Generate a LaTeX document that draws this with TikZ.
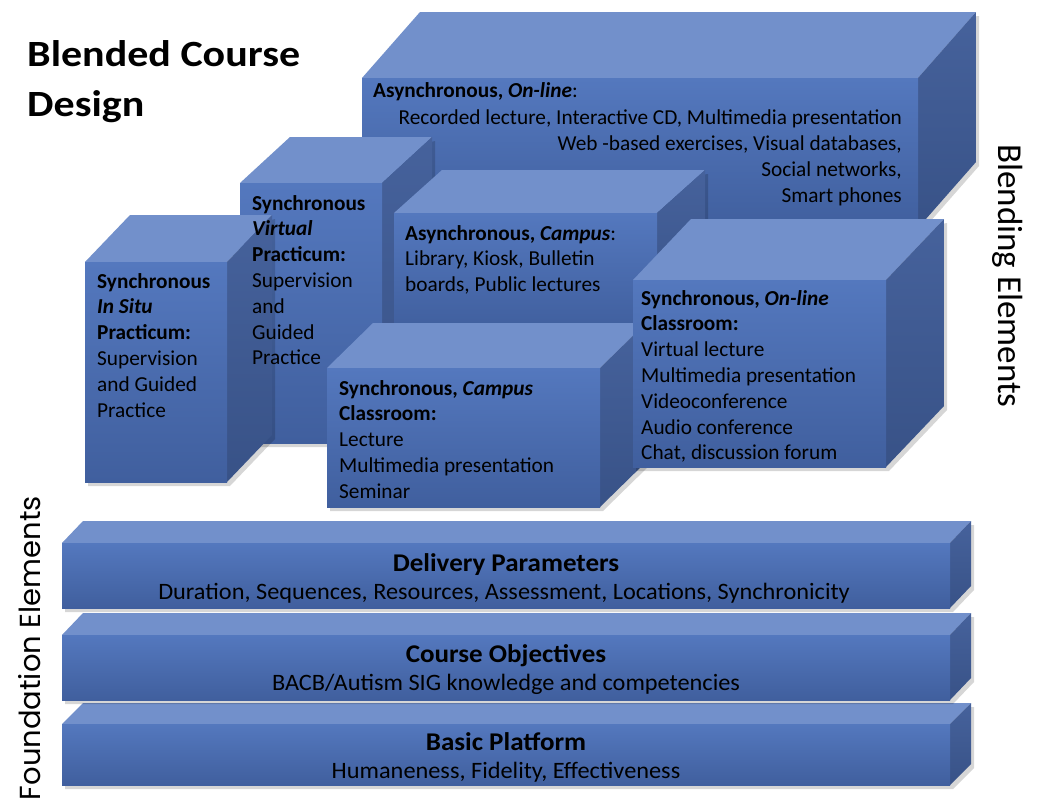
\documentclass[tikz,border=0pt]{standalone}
\usepackage{fontspec}
\setmainfont{Carlito}
\newfontfamily\gothic{Poppins}
\usetikzlibrary{calc}
\definecolor{fronttop}{RGB}{84,120,190}
\definecolor{frontbot}{RGB}{64,95,158}
\definecolor{topface}{RGB}{114,144,203}
\definecolor{sidetop}{RGB}{70,98,156}
\definecolor{sidebot}{RGB}{56,82,135}
\tikzset{
  frontface/.style={top color=fronttop, bottom color=frontbot, draw=none},
  topfill/.style={fill=topface, draw=none},
  sidefill/.style={top color=sidetop, bottom color=sidebot, draw=none},
  shadowfill/.style={fill=black, opacity=0.16, draw=none},
  boxtext/.style={font=\fontsize{21.3}{25.8}\selectfont, align=left, inner sep=0pt, text=black},
  slabhead/.style={font=\fontsize{25.5}{28}\selectfont\bfseries, inner sep=0pt, anchor=base, xscale=1.06},
  slabtext/.style={font=\fontsize{23.5}{25}\selectfont, inner sep=0pt, anchor=base, xscale=1.035},
  titletext/.style={font=\fontsize{37}{50}\selectfont\bfseries, inner sep=0pt, anchor=base west, xscale=1.135},
  sidelabel/.style={font=\fontsize{35}{38}\selectfont, inner sep=0pt}
}
% name, x1, y1, x2, y2, dx, dy (pixel coordinates, y downwards)
\newcommand{\cubox}[7]{%
  \fill[shadowfill] (#2+3,#3+4) -- (#2+3,#5+4) -- (#4+3,#5+4) -- (#4+#6+3,#5+#7+4) -- (#4+#6+3,#3+#7+4) -- cycle;
  \fill[topfill] (#2,#3) -- (#2+#6,#3+#7) -- (#4+#6,#3+#7) -- (#4,#3) -- cycle;
  \shade[sidefill] (#4,#3) -- (#4+#6,#3+#7) -- (#4+#6,#5+#7) -- (#4,#5) -- cycle;
  \shade[frontface] (#2,#3) rectangle (#4,#5);
  \coordinate (#1) at (#2,#3);
}
\begin{document}
\begin{tikzpicture}[x=1pt,y=-1pt]
\useasboundingbox (0,0) rectangle (1037,806);
\fill[white] (0,0) rectangle (1037,806);

% title
\node[titletext] (title1) at (27,66) {Blended Course};
\node[titletext] (title2) at (27,116) {Design};

% blending elements
\cubox{ao}{362}{78}{918}{228}{58}{-66}
\cubox{svp}{240}{183}{382}{443}{50}{-46}
\cubox{ac}{394}{213}{657}{330}{48}{-43}
\cubox{sisp}{85}{262}{227}{482}{45}{-47}
\cubox{scc}{327}{368}{600}{507}{46}{-45}
\cubox{soc}{633}{280}{886}{467}{58}{-61}

\node[boxtext, anchor=west] (aoh) at (373,92) {\textbf{Asynchronous, \textit{On-line}}:};
\node[boxtext, anchor=north east, align=right] (aob) at (902,110) {Recorded lecture, Interactive CD, Multimedia presentation\\Web -based exercises, Visual databases,\\Social networks,\\Smart phones};

\node[boxtext, anchor=north west] (svpt) at (252,195) {\textbf{Synchronous}\\\textbf{\textit{Virtual}}\\\textbf{Practicum:}\\Supervision\\and\\Guided\\Practice};
\node[boxtext, anchor=north west] (sispt) at (97,273) {\textbf{Synchronous}\\\textbf{\textit{In Situ}}\\\textbf{Practicum:}\\Supervision\\and Guided\\Practice};
\node[boxtext, anchor=north west] (act) at (405,225) {\textbf{Asynchronous, \textit{Campus}}:\\Library, Kiosk, Bulletin\\boards, Public lectures};
\node[boxtext, anchor=north west] (soct) at (641,290) {\textbf{Synchronous, \textit{On-line}}\\\textbf{Classroom:}\\Virtual lecture\\Multimedia presentation\\Videoconference\\Audio conference\\Chat, discussion forum};
\node[boxtext, anchor=north west] (scct) at (339,380) {\textbf{Synchronous, \textit{Campus}}\\\textbf{Classroom:}\\Lecture\\Multimedia presentation\\Seminar};

% foundation slabs
\cubox{dp}{62}{724}{950}{785}{21}{-21}
\cubox{co}{62}{635}{950}{700}{21}{-22}
\cubox{bp}{62}{543}{950}{608}{21}{-22}

\node[slabhead] (dph) at (506,571) {Delivery Parameters};
\node[slabtext] (dpt) at (504,599) {Duration, Sequences,\ Resources,\ Assessment,\ Locations, Synchronicity};
\node[slabhead] (coh) at (506,662) {Course Objectives};
\node[slabtext] (cot) at (506,690) {BACB/Autism\ SIG knowledge and competencies};
\node[slabhead] (bph) at (506,750) {Basic Platform};
\node[slabtext] (bpt) at (506,778) {Humaneness, Fidelity, Effectiveness};

% side labels
\node[sidelabel, font=\gothic\fontsize{29}{34}\selectfont, rotate=90] (found) at (30,648) {Foundation Elements};
\node[sidelabel, rotate=-90] (blend) at (1008,276) {Blending Elements};
\end{tikzpicture}
\end{document}
